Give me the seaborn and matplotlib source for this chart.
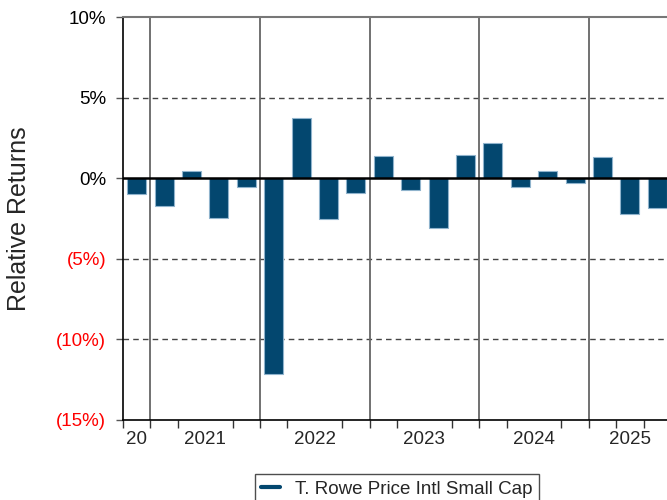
import numpy as np
import pandas as pd
import matplotlib
matplotlib.use("Agg")
import matplotlib.pyplot as plt
import seaborn as sns
from matplotlib.ticker import FixedLocator

sns.set_style("white")
plt.rcParams["font.family"] = ["Liberation Sans", "DejaVu Sans"]

# Datos (rendimientos relativos trimestrales, %)
trimestres = ["2020Q4",
              "2021Q1", "2021Q2", "2021Q3", "2021Q4",
              "2022Q1", "2022Q2", "2022Q3", "2022Q4",
              "2023Q1", "2023Q2", "2023Q3", "2023Q4",
              "2024Q1", "2024Q2", "2024Q3", "2024Q4",
              "2025Q1", "2025Q2", "2025Q3"]
rendimientos = [-0.99,
                -1.70, 0.45, -2.44, -0.54,
                -12.14, 3.72, -2.52, -0.91,
                1.38, -0.71, -3.08, 1.45,
                2.17, -0.56, 0.45, -0.29,
                1.30, -2.19, -1.86]
etiquetas_anio = ["20", "2021", "2022", "2023", "2024", "2025"]
pos_etiquetas = [0, 2.5, 6.5, 10.5, 14.5, 18]
limites_anio = [0.5, 4.5, 8.5, 12.5, 16.5]
y_ticks = [10, 5, 0, -5, -10, -15]
serie = "T. Rowe Price Intl Small Cap"

df = pd.DataFrame({"Trimestre": trimestres, "Rendimiento": rendimientos})

color_barra = "#03476F"

fig = plt.figure(figsize=(6.67, 5), dpi=100)
ax = fig.add_axes([123 / 667, 1 - 420 / 500, 548 / 667, 403 / 500])

sns.barplot(data=df, x="Trimestre", y="Rendimiento", ax=ax, color=color_barra,
            saturation=1, width=0.7, edgecolor="#8fb3cc", linewidth=0.8,
            zorder=3)

ax.set_xlim(-0.5, 19.5)
ax.set_ylim(-15, 10)

# Rejilla horizontal discontinua
for y in [5, -5, -10]:
    ax.axhline(y, color="#444444", linestyle=(0, (4, 3)), linewidth=1, zorder=1)
ax.axhline(0, color="black", linewidth=1.8, zorder=4)

# Separadores de año
for x in limites_anio:
    ax.axvline(x, color="#666666", linewidth=1.3, zorder=2)

# Ejes
for lado in ["left", "bottom"]:
    ax.spines[lado].set_color("black")
    ax.spines[lado].set_linewidth(1.2)
ax.spines["top"].set_color("#777777")
ax.spines["top"].set_linewidth(1.5)
ax.spines["right"].set_visible(False)

ax.set_yticks(y_ticks)
etiquetas_y = [f"{v}%" if v >= 0 else f"({abs(v)}%)" for v in y_ticks]
ax.set_yticklabels(etiquetas_y, fontsize=13.5)
for t, v in zip(ax.get_yticklabels(), y_ticks):
    t.set_color("black" if v >= 0 else "red")
ax.tick_params(axis="y", direction="out", length=5, width=1, color="#555555",
               left=True, pad=7)

ax.xaxis.set_major_locator(FixedLocator(pos_etiquetas))
ax.set_xticklabels(etiquetas_anio, fontsize=13.5)
ax.xaxis.set_minor_locator(FixedLocator(np.arange(-0.5, 20, 1)))
ax.tick_params(axis="x", which="major", length=0, pad=8)
ax.tick_params(axis="x", which="minor", direction="out", length=6, width=1,
               color="#333333", bottom=True)

ax.set_xlabel("")
ax.set_ylabel("Relative Returns", fontsize=18, labelpad=18)

handle = plt.Line2D([], [], color=color_barra, linewidth=3)
leg = ax.legend([handle], [serie], loc="upper center",
                bbox_to_anchor=(0.5, -0.134), frameon=True, fontsize=13.5,
                fancybox=False, handlelength=1.0, borderpad=0.35,
                borderaxespad=0)
leg.get_frame().set_edgecolor("#222222")
leg.get_frame().set_linewidth(1)

fig.savefig("out.png", dpi=100)
